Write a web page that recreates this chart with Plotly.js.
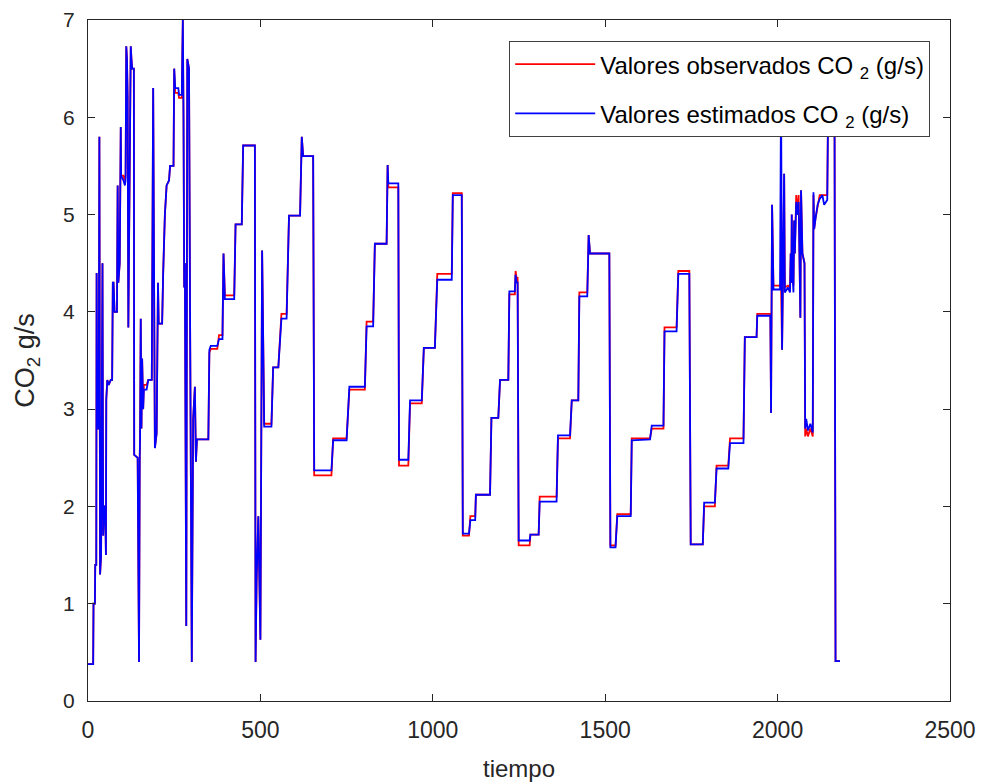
<!DOCTYPE html>
<html>
<head>
<meta charset="utf-8">
<script src="https://cdn.plot.ly/plotly-3.0.1.min.js"></script>
<style>
  html, body { margin: 0; padding: 0; background: #ffffff; }
  #chart { width: 984px; height: 784px; }
</style>
</head>
<body>
<div id="chart"></div>
<script>
// ---- data ----
const tiempo = [
  0, 15, 16, 20, 21, 24, 25, 27, 31, 33,
  35, 38, 42, 44, 47, 50, 52, 53, 56, 60,
  66, 70, 72, 74, 77, 84, 86, 88, 92, 95,
  96, 103, 107, 109, 111, 113, 115, 117, 121, 124,
  126, 128, 133, 134, 144, 148, 150, 151, 153, 155,
  157, 160, 162, 170, 175, 185, 189, 191, 194, 199,
  203, 205, 215, 218, 223, 228, 235, 238, 248, 250,
  253, 262, 264, 272, 275, 277, 279, 281, 285, 288,
  293, 296, 301, 305, 310, 313, 316, 349, 352, 356,
  375, 380, 390, 393, 397, 424, 428, 446, 450, 484,
  486, 489, 494, 500, 505, 511, 532, 537, 552, 561,
  576, 583, 615, 620, 624, 653, 656, 706, 711, 750,
  758, 803, 808, 827, 832, 866, 869, 871, 900, 902,
  929, 934, 968, 974, 1006, 1013, 1055, 1058, 1084, 1087,
  1105, 1109, 1123, 1125, 1166, 1170, 1190, 1195, 1219, 1222,
  1238, 1240, 1243, 1246, 1249, 1281, 1283, 1307, 1310, 1359,
  1363, 1398, 1403, 1422, 1425, 1448, 1452, 1456, 1512, 1515,
  1530, 1535, 1574, 1577, 1630, 1635, 1669, 1672, 1707, 1712,
  1744, 1748, 1783, 1787, 1818, 1823, 1857, 1862, 1901, 1905,
  1939, 1941, 1979, 1981, 1984, 1988, 2007, 2010, 2013, 2019,
  2021, 2030, 2036, 2038, 2040, 2041, 2043, 2046, 2048, 2050,
  2052, 2054, 2057, 2061, 2063, 2066, 2068, 2072, 2078, 2080,
  2083, 2088, 2095, 2102, 2104, 2106, 2110, 2116, 2122, 2130,
  2135, 2144, 2147, 2165, 2166, 2168, 2181
];

const co2Estimado = [
  0.38, 0.38, 1.0, 1.0, 1.4, 1.4, 4.4, 2.8, 2.8, 5.8,
  1.3, 1.5, 4.5, 1.7, 2.0, 2.0, 1.5, 3.1, 3.3, 3.25,
  3.3, 3.3, 4.3, 4.3, 4.0, 4.0, 5.3, 4.3, 4.5, 5.9,
  5.4, 5.35, 5.3, 5.35, 6.73, 6.6, 6.2, 3.84, 5.5, 6.73,
  6.6, 6.5, 6.5, 2.53, 2.5, 0.4, 2.5, 2.7, 3.93, 2.8,
  3.52, 3.0, 3.2, 3.2, 3.3, 3.3, 6.3, 4.0, 2.6, 2.75,
  4.3, 3.88, 3.88, 4.4, 5.0, 5.3, 5.35, 5.5, 5.5, 6.5,
  6.3, 6.3, 6.23, 6.23, 7.0, 6.0, 4.25, 4.5, 0.77, 6.6,
  6.5, 3.97, 0.4, 2.9, 3.23, 2.46, 2.69, 2.69, 3.61, 3.65,
  3.65, 3.72, 3.72, 4.6, 4.13, 4.13, 4.9, 4.9, 5.71, 5.71,
  0.4, 1.26, 1.9, 0.63, 4.63, 2.82, 2.82, 3.43, 3.43, 3.93,
  3.93, 4.99, 4.99, 5.8, 5.6, 5.6, 2.37, 2.37, 2.68, 2.68,
  3.23, 3.23, 3.85, 3.85, 4.70, 4.70, 5.51, 5.32, 5.32, 2.48,
  2.48, 3.09, 3.09, 3.63, 3.63, 4.33, 4.33, 5.2, 5.2, 1.72,
  1.72, 1.86, 1.86, 2.12, 2.12, 2.91, 2.91, 3.30, 3.30, 4.21,
  4.21, 4.38, 4.3, 4.3, 1.65, 1.65, 1.71, 1.71, 2.05, 2.05,
  2.73, 2.73, 3.09, 3.09, 4.16, 4.16, 4.79, 4.6, 4.6, 1.58,
  1.58, 1.90, 1.90, 2.68, 2.69, 2.83, 2.83, 3.80, 3.80, 4.39,
  4.39, 1.61, 1.61, 2.04, 2.04, 2.39, 2.39, 2.65, 2.65, 3.74,
  3.74, 3.96, 3.96, 2.96, 5.10, 4.23, 4.23, 6.3, 3.61, 5.42,
  4.2, 4.25, 4.2, 4.6, 4.3, 5.0, 4.4, 4.2, 4.94, 4.6,
  4.9, 5.13, 5.0, 5.13, 4.7, 3.94, 5.25, 4.6, 4.5, 2.80,
  2.9, 2.78, 2.85, 2.76, 5.23, 4.85, 4.96, 5.1, 5.16, 5.2,
  5.1, 5.15, 6.3, 6.3, 4.29, 0.41, 0.41
];

const co2Observado = [
  0.38, 0.38, 1.0, 1.0, 1.4, 1.4, 4.4, 2.8, 2.8, 5.8,
  1.3, 1.5, 4.5, 1.7, 2.0, 2.0, 1.5, 3.1, 3.3, 3.25,
  3.3, 3.3, 4.3, 4.3, 4.0, 4.0, 5.3, 4.3, 4.5, 5.9,
  5.4, 5.4, 5.35, 5.4, 6.73, 6.6, 6.2, 3.84, 5.5, 6.73,
  6.6, 6.5, 6.5, 2.53, 2.5, 0.4, 2.5, 2.7, 3.93, 2.8,
  3.52, 3.0, 3.25, 3.25, 3.3, 3.3, 6.3, 4.0, 2.6, 2.75,
  4.3, 3.88, 3.88, 4.4, 5.0, 5.3, 5.35, 5.5, 5.5, 6.5,
  6.25, 6.25, 6.2, 6.2, 7.0, 6.0, 4.25, 4.5, 0.77, 6.6,
  6.5, 3.97, 0.4, 2.9, 3.23, 2.46, 2.69, 2.69, 3.58, 3.62,
  3.62, 3.76, 3.76, 4.6, 4.17, 4.17, 4.9, 4.9, 5.71, 5.71,
  0.4, 1.22, 1.9, 0.63, 4.63, 2.85, 2.85, 3.43, 3.43, 3.98,
  3.98, 4.99, 4.99, 5.8, 5.6, 5.6, 2.32, 2.32, 2.70, 2.70,
  3.20, 3.20, 3.90, 3.90, 4.70, 4.70, 5.51, 5.28, 5.28, 2.42,
  2.42, 3.06, 3.06, 3.63, 3.63, 4.39, 4.39, 5.22, 5.22, 1.70,
  1.70, 1.90, 1.90, 2.12, 2.12, 2.91, 2.91, 3.30, 3.30, 4.18,
  4.18, 4.42, 4.35, 4.35, 1.60, 1.60, 1.71, 1.71, 2.10, 2.10,
  2.70, 2.70, 3.09, 3.09, 4.20, 4.20, 4.79, 4.6, 4.6, 1.60,
  1.60, 1.92, 1.92, 2.70, 2.70, 2.80, 2.80, 3.84, 3.84, 4.42,
  4.42, 1.61, 1.61, 2.00, 2.00, 2.42, 2.42, 2.70, 2.70, 3.74,
  3.74, 3.98, 3.98, 2.96, 5.10, 4.27, 4.27, 4.27, 3.61, 5.42,
  4.25, 4.27, 4.25, 4.6, 4.3, 5.0, 4.4, 4.27, 4.94, 4.6,
  4.9, 5.2, 5.0, 5.2, 4.7, 3.94, 5.25, 4.6, 4.5, 2.72,
  2.8, 2.72, 2.80, 2.72, 5.2, 4.85, 4.96, 5.1, 5.2, 5.2,
  5.2, 5.2, 6.3, 6.3, 4.3, 0.41, 0.41
];

const xTicks = [0, 500, 1000, 1500, 2000, 2500];
const yTicks = [0, 1, 2, 3, 4, 5, 6, 7];

const labelObservado = 'Valores observados CO <sub>2</sub> (g/s)';
const labelEstimado  = 'Valores estimados CO <sub>2</sub> (g/s)';

// ---- chart ----
const axisColor = '#262626';
const fontFam = 'Liberation Sans, Arial, sans-serif';

const traces = [
  {
    x: tiempo, y: co2Observado, type: 'scatter', mode: 'lines',
    name: labelObservado, legendgroup: 'obs',
    line: { color: '#ff0000', width: 1.8 }
  },
  {
    x: tiempo, y: co2Estimado, type: 'scatter', mode: 'lines',
    name: labelEstimado, legendgroup: 'est',
    line: { color: '#0000ff', width: 1.8 }
  }
];

const layout = {
  width: 984, height: 784,
  margin: { l: 88, r: 34, t: 20, b: 83 },
  paper_bgcolor: '#ffffff', plot_bgcolor: '#ffffff',
  font: { family: fontFam, color: axisColor },
  showlegend: true,
  legend: {
    x: 0.977, y: 0.969, xanchor: 'right', yanchor: 'top',
    bgcolor: '#ffffff', bordercolor: '#404040', borderwidth: 1,
    font: { family: fontFam, size: 24, color: '#000000' },
    traceorder: 'grouped', tracegroupgap: 15,
    itemwidth: 80
  },
  xaxis: {
    range: [0, 2500], tickvals: xTicks, ticktext: xTicks.map(String),
    ticks: 'inside', ticklen: 7, tickcolor: axisColor, tickwidth: 1,
    showline: true, linecolor: axisColor, linewidth: 1, mirror: 'ticks',
    showgrid: false, zeroline: false,
    tickfont: { family: fontFam, size: 23, color: axisColor },
    ticklabelstandoff: 8,
    title: { text: 'tiempo', font: { family: fontFam, size: 24, color: axisColor }, standoff: 18 }
  },
  yaxis: {
    range: [0, 7], tickvals: yTicks, ticktext: yTicks.map(String),
    ticks: 'inside', ticklen: 7, tickcolor: axisColor, tickwidth: 1,
    showline: true, linecolor: axisColor, linewidth: 1, mirror: 'ticks',
    showgrid: false, zeroline: false,
    tickfont: { family: fontFam, size: 21, color: axisColor },
    ticklabelstandoff: 8,
    title: { text: 'CO<sub>2</sub> g/s', font: { family: fontFam, size: 27, color: axisColor }, standoff: 20 }
  },
  hovermode: false
};

Plotly.newPlot('chart', traces, layout, { displayModeBar: false, staticPlot: true });
</script>
</body>
</html>
